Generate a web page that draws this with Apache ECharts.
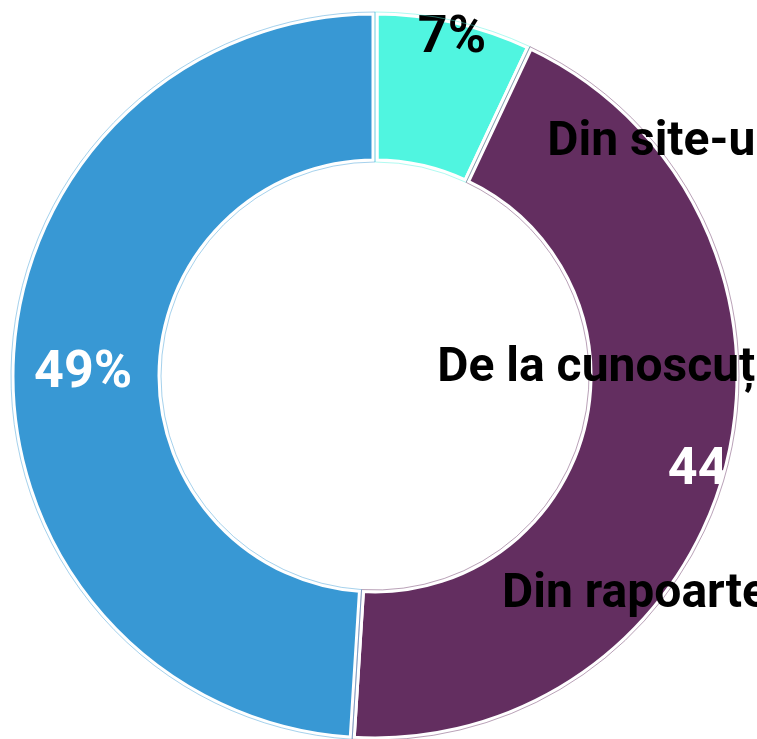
<!DOCTYPE html>
<html>
<head>
<meta charset="utf-8">
<script src="https://cdn.jsdelivr.net/npm/echarts@6/dist/echarts.min.js"></script>
<style>
  html, body { margin: 0; padding: 0; background: #fff; }
  #chart { width: 757px; height: 739px; }
</style>
</head>
<body>
<div id="chart"></div>
<script>
  // date
  var categories = ['Din site-ul', 'De la cunoscuți', 'Din rapoarte'];
  var values = [7, 44, 49];
  var colors = ['#50f5e0', '#632e60', '#3898d4'];
  var outlineColors = ['rgba(80,245,224,0.45)', 'rgba(99,46,96,0.45)', 'rgba(56,152,212,0.45)'];
  var labelColors = ['#000', '#fff', '#fff'];
  var pushOut = [61, 61, 0]; // cat de departe e impinsa eticheta spre exterior

  var total = values.reduce(function (a, b) { return a + b; }, 0);
  function midAngle(i) {
    var before = 0;
    for (var k = 0; k < i; k++) before += values[k];
    return (before + values[i] / 2) / total * Math.PI * 2;
  }

  var chart = echarts.init(document.getElementById('chart'));

  chart.setOption({
    animation: false,
    legend: {
      orient: 'vertical',
      left: 420,
      top: 114,
      itemWidth: 0,
      itemHeight: 0,
      itemGap: 178,
      icon: 'rect',
      selectedMode: false,
      data: categories,
      formatter: '{n|{name}}',
      textStyle: {
        fontFamily: 'Roboto',
        fontWeight: 'bold',
        fontSize: 48,
        color: '#000',
        rich: {
          n: {
            fontFamily: 'Roboto',
            fontWeight: 'bold',
            fontSize: 48,
            lineHeight: 50,
            color: '#000',
            width: 337,
            align: 'right'
          }
        }
      }
    },
    series: [
      {
        type: 'pie',
        center: [375, 376],
        radius: [214, 364],
        startAngle: 90,
        clockwise: true,
        itemStyle: {
          borderColor: '#fff',
          borderWidth: 7
        },
        label: {
          show: true,
          position: 'inside',
          formatter: '{c}%',
          fontFamily: 'Roboto',
          fontWeight: 'bold',
          fontSize: 52
        },
        labelLine: { show: false },
        labelLayout: function (p) {
          var a = midAngle(p.dataIndex);
          var d = pushOut[p.dataIndex];
          return { dx: d * Math.sin(a), dy: -d * Math.cos(a) + 7 };
        },
        data: categories.map(function (c, i) {
          return {
            name: c,
            value: values[i],
            itemStyle: { color: colors[i] },
            label: { color: labelColors[i] }
          };
        }),
        z: 2
      },
      {
        // contur fin al feliilor
        type: 'pie',
        silent: true,
        center: [375, 376],
        radius: [214, 364],
        startAngle: 90,
        clockwise: true,
        label: { show: false },
        labelLine: { show: false },
        data: categories.map(function (c, i) {
          return {
            name: c + ' ',
            value: values[i],
            itemStyle: { color: 'transparent', borderColor: outlineColors[i], borderWidth: 1 }
          };
        }),
        z: 3
      }
    ]
  });
</script>
</body>
</html>
